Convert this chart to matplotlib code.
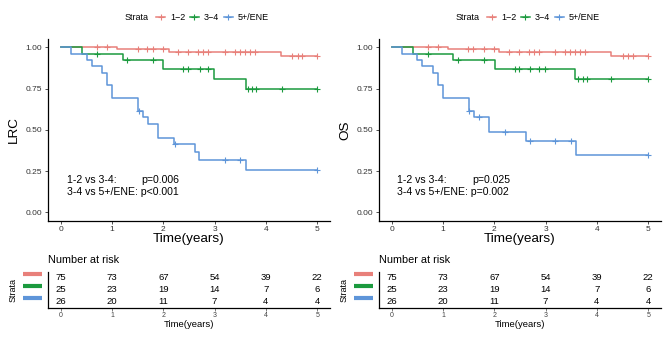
import numpy as np
import matplotlib
matplotlib.use("Agg")
import matplotlib.pyplot as plt
from matplotlib.lines import Line2D

plt.rcParams["font.family"] = ["Liberation Sans", "DejaVu Sans"]

# ----------------------------------------------------------------------------
# Kaplan-Meier step data (time in years, survival prob.)
# ----------------------------------------------------------------------------
STRATA = ["1\u22122", "3\u22124", "5+/ENE"]
COLORS = ["#E8807A", "#1B9A3E", "#5E95D9"]

# LRC panel
LRC_12_T = [0, 1.09, 2.11, 4.29, 5.0]
LRC_12_S = [1.0, 0.987, 0.970, 0.949, 0.949]
LRC_12_CENS = [0.70, 0.90, 1.51, 1.68, 1.80, 1.99, 2.29, 2.49, 2.68, 2.78, 2.87,
               3.20, 3.40, 3.49, 3.59, 3.69, 3.79, 4.50, 4.63, 4.70, 5.0]

LRC_34_T = [0, 0.41, 1.21, 2.00, 2.99, 3.61, 5.0]
LRC_34_S = [1.0, 0.960, 0.920, 0.870, 0.806, 0.750, 0.750]
LRC_34_CENS = [0.70, 1.29, 1.80, 2.39, 2.49, 2.72, 2.88, 3.66, 3.72, 3.80, 4.31, 5.0]

LRC_5_T = [0, 0.20, 0.51, 0.60, 0.80, 0.91, 0.99, 1.50, 1.60, 1.71, 1.89, 2.20,
           2.61, 2.70, 3.61, 5.0]
LRC_5_S = [1.0, 0.962, 0.923, 0.885, 0.846, 0.769, 0.692, 0.615, 0.577, 0.533,
           0.452, 0.412, 0.364, 0.317, 0.256, 0.256]
LRC_5_CENS = [1.52, 2.22, 3.20, 3.49, 5.0]

# OS panel
OS_12_T = [0, 1.09, 2.10, 4.28, 5.0]
OS_12_S = [1.0, 0.987, 0.970, 0.949, 0.949]
OS_12_CENS = [0.70, 0.90, 1.48, 1.58, 1.79, 1.99, 2.29, 2.49, 2.68, 2.77, 2.88,
              3.18, 3.37, 3.47, 3.57, 3.67, 3.76, 4.51, 4.61, 4.70, 5.0]

OS_34_T = [0, 0.41, 1.19, 2.01, 3.58, 5.0]
OS_34_S = [1.0, 0.960, 0.920, 0.870, 0.806, 0.806]
OS_34_CENS = [0.70, 1.29, 1.80, 2.40, 2.49, 2.69, 2.88, 2.98, 3.63, 3.73, 3.81,
              4.28, 5.0]

OS_5_T = [0, 0.20, 0.50, 0.59, 0.80, 0.90, 1.00, 1.50, 1.60, 1.89, 2.61, 3.60, 5.0]
OS_5_S = [1.0, 0.962, 0.923, 0.885, 0.846, 0.769, 0.692, 0.615, 0.577, 0.485,
          0.433, 0.347, 0.347]
OS_5_CENS = [1.50, 1.70, 2.20, 2.70, 3.19, 3.50, 5.0]

# Number at risk (same table under both panels)
RISK_TIMES = [0, 1, 2, 3, 4, 5]
RISK_12 = [75, 73, 67, 54, 39, 22]
RISK_34 = [25, 23, 19, 14, 7, 6]
RISK_5 = [26, 20, 11, 7, 4, 4]

X_TICKS = [0, 1, 2, 3, 4, 5]
Y_TICKS = [0.0, 0.25, 0.5, 0.75, 1.0]
Y_TICKLABELS = ["0.00", "0.25", "0.50", "0.75", "1.00"]

LRC_P = ["p=0.006", "p<0.001"]
OS_P = ["p=0.025", "p=0.002"]

W, H = 669, 338


def px(x0, y0, w, h):
    """pixel box (left, top, width, height) -> figure fraction rect"""
    return [x0 / W, 1 - (y0 + h) / H, w / W, h / H]


def step_value(t, times, surv):
    idx = np.searchsorted(times, t, side="right") - 1
    return np.asarray(surv)[idx]


def draw_panel(fig, xoff, ylabel, curves, pvals, txt_x):
    # ---- main KM axes ----
    ax = fig.add_axes(px(48 + xoff, 39, 282, 181.5))
    for (t, s, c), col in zip(curves, COLORS):
        ax.step(t, s, where="post", color=col, lw=1.1)
        ax.plot(c, step_value(c, t, s), ls="none", marker="+", ms=4.5,
                mew=0.8, color=col)
    ax.set_xlim(-0.25, 5.25)
    ax.set_ylim(-0.05, 1.05)
    ax.set_xticks(X_TICKS)
    ax.set_yticks(Y_TICKS)
    ax.set_yticklabels(Y_TICKLABELS)
    ax.tick_params(labelsize=6, length=2.5, width=0.6, pad=1.5, colors="#333333",
                   labelcolor="#333333")
    for sp in ["top", "right"]:
        ax.spines[sp].set_visible(False)
    for sp in ["left", "bottom"]:
        ax.spines[sp].set_linewidth(0.9)
    ax.set_xlabel("Time(years)", fontsize=9.7, labelpad=0)
    ax.set_ylabel(ylabel, fontsize=9.7, labelpad=4)

    ax.text(txt_x, 0.196, "1-2 vs 3-4:", fontsize=7.6, va="center", ha="left")
    ax.text(1.56, 0.196, pvals[0], fontsize=7.6, va="center", ha="left")
    ax.text(txt_x, 0.125, "3-4 vs 5+/ENE: " + pvals[1], fontsize=7.6,
            va="center", ha="left")

    # ---- legend ----
    handles = [Line2D([0], [0], color=col, lw=1.1, marker="+", ms=4.5, mew=0.8)
               for col in COLORS]
    fig.text((125 + xoff) / W, 1 - 18 / H, "Strata", fontsize=6.5, va="center")
    fig.legend(handles, STRATA, loc="center left",
               bbox_to_anchor=((156 + xoff) / W, 1 - 18 / H), ncol=3,
               frameon=False, fontsize=6.5, handlelength=1.0,
               handletextpad=0.55, columnspacing=0.5, borderpad=0,
               borderaxespad=0)

    # ---- number at risk table ----
    fig.text((48 + xoff) / W, 1 - 260 / H, "Number at risk", fontsize=7.8,
             va="center", ha="left")
    tab = fig.add_axes(px(48 + xoff, 272, 282, 35.7))
    for row, (vals, col) in enumerate(zip([RISK_12, RISK_34, RISK_5], COLORS)):
        y = 3 - row
        for tx, v in zip(RISK_TIMES, vals):
            tab.text(tx, y, str(v), ha="center", va="center", fontsize=6.8)
        tab.plot([-0.089, -0.021], [y + 0.3, y + 0.3],
                 transform=tab.get_yaxis_transform(),
                 color=col, lw=3, solid_capstyle="butt", clip_on=False)
    tab.set_xlim(-0.25, 5.25)
    tab.set_ylim(0.5, 3.5)
    tab.set_xticks(X_TICKS)
    tab.set_yticks([])
    tab.tick_params(axis="x", labelsize=5, length=2, width=0.5, pad=1,
                    colors="#444444")
    for sp in ["top", "right"]:
        tab.spines[sp].set_visible(False)
    for sp in ["left", "bottom"]:
        tab.spines[sp].set_linewidth(0.9)
    tab.set_xlabel("Time(years)", fontsize=6.8, labelpad=1)
    fig.text((13 + xoff) / W, 1 - 290 / H, "Strata", fontsize=6.5,
             rotation=90, va="center", ha="center")


fig = plt.figure(figsize=(W / 100, H / 100), dpi=100)

draw_panel(fig, 0, "LRC",
           [(LRC_12_T, LRC_12_S, LRC_12_CENS),
            (LRC_34_T, LRC_34_S, LRC_34_CENS),
            (LRC_5_T, LRC_5_S, LRC_5_CENS)],
           LRC_P, 0.12)

draw_panel(fig, 331, "OS",
           [(OS_12_T, OS_12_S, OS_12_CENS),
            (OS_34_T, OS_34_S, OS_34_CENS),
            (OS_5_T, OS_5_S, OS_5_CENS)],
           OS_P, 0.10)

fig.savefig("out.png", dpi=100)
